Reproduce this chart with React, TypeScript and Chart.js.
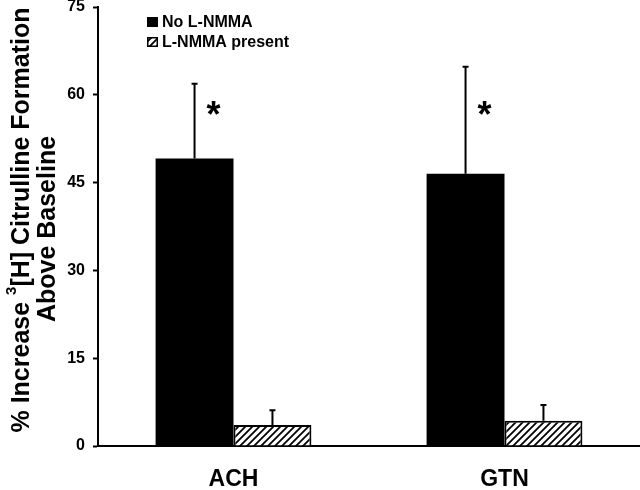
import React, { useEffect, useRef } from 'react';
import { Chart, registerables } from 'chart.js';

Chart.register(...registerables);

const categories = ['ACH', 'GTN'];
const seriesNames = ['No L-NMMA', 'L-NMMA present'];
const noLNMMA = [49.1, 46.5];
const noLNMMAErr = [12.8, 18.3];
const withLNMMA = [3.6, 4.3];
const withLNMMAErr = [2.5, 2.7];
const significant = [true, true];
const asteriskLevel = 57;
const yMin = 0;
const yMax = 75;
const yStep = 15;
const yTitleLine1 = ['% Increase ', '3', '[H] Citrulline Formation'];
const yTitleLine2 = 'Above Baseline';

const FONT = "'Liberation Sans', Arial, Helvetica, sans-serif";

function makeHatchTile(): HTMLCanvasElement {
  const s = 7;
  const c = document.createElement('canvas');
  c.width = s;
  c.height = s;
  const g = c.getContext('2d')!;
  g.fillStyle = '#fff';
  g.fillRect(0, 0, s, s);
  g.strokeStyle = '#000';
  g.lineWidth = 1.8;
  g.beginPath();
  for (const k of [-s, 0, s]) {
    g.moveTo(k - 1, s + 1);
    g.lineTo(k + s + 1, -1);
  }
  g.stroke();
  return c;
}

export default function App() {
  const canvasRef = useRef<HTMLCanvasElement | null>(null);

  useEffect(() => {
    const canvas = canvasRef.current;
    if (!canvas) return;
    const ctx0 = canvas.getContext('2d')!;
    const hatch = ctx0.createPattern(makeHatchTile(), 'repeat') as CanvasPattern;

    const overlay = {
      id: 'overlay',
      afterDatasetsDraw(chart: any) {
        const ctx = chart.ctx;
        const y = chart.scales.y;
        const errs = [noLNMMAErr, withLNMMAErr];
        chart.data.datasets.forEach((ds: any, di: number) => {
          const meta = chart.getDatasetMeta(di);
          meta.data.forEach((bar: any, i: number) => {
            const v = ds.data[i];
            const base = y.getPixelForValue(v);
            const top = y.getPixelForValue(v + errs[di][i]);
            ctx.save();
            ctx.strokeStyle = '#000';
            ctx.lineWidth = 2;
            ctx.beginPath();
            ctx.moveTo(bar.x, base);
            ctx.lineTo(bar.x, top);
            ctx.moveTo(bar.x - 3, top);
            ctx.lineTo(bar.x + 3, top);
            ctx.stroke();
            ctx.restore();
          });
        });
        // significance asterisks
        const meta0 = chart.getDatasetMeta(0);
        meta0.data.forEach((bar: any, i: number) => {
          if (!significant[i]) return;
          ctx.save();
          ctx.fillStyle = '#000';
          ctx.font = `bold 36px ${FONT}`;
          ctx.textAlign = 'center';
          ctx.textBaseline = 'alphabetic';
          ctx.fillText('*', bar.x + 19, y.getPixelForValue(asteriskLevel) + 15);
          ctx.restore();
        });
      },
      afterDraw(chart: any) {
        const ctx = chart.ctx;
        const ca = chart.chartArea;
        // Legend
        const lx = ca.left + 49;
        const rows = [22, 42];
        ctx.save();
        ctx.font = `bold 16px ${FONT}`;
        ctx.textBaseline = 'middle';
        ctx.textAlign = 'left';
        ctx.fillStyle = '#000';
        ctx.fillRect(lx, rows[0] - 5, 11, 10);
        ctx.fillText(seriesNames[0], lx + 15, rows[0] + 1);
        ctx.fillStyle = hatch;
        ctx.fillRect(lx, rows[1] - 5, 11, 10);
        ctx.strokeStyle = '#000';
        ctx.lineWidth = 1.5;
        ctx.strokeRect(lx + 0.75, rows[1] - 4.25, 9.5, 8.5);
        ctx.fillStyle = '#000';
        ctx.fillText(seriesNames[1], lx + 15, rows[1] + 1);
        ctx.restore();

        // Y-axis title (rotated, with superscript)
        const mainFont = `bold 25px ${FONT}`;
        const supFont = `bold 15px ${FONT}`;
        ctx.save();
        ctx.fillStyle = '#000';
        ctx.textBaseline = 'alphabetic';
        ctx.textAlign = 'left';
        ctx.font = mainFont;
        const w1 = ctx.measureText(yTitleLine1[0]).width;
        const w3 = ctx.measureText(yTitleLine1[2]).width;
        ctx.font = supFont;
        const w2 = ctx.measureText(yTitleLine1[1]).width;
        const total = w1 + w2 + w3;
        ctx.translate(29, 220);
        ctx.rotate(-Math.PI / 2);
        let x = -total / 2;
        ctx.font = mainFont;
        ctx.fillText(yTitleLine1[0], x, 0);
        x += w1;
        ctx.font = supFont;
        ctx.fillText(yTitleLine1[1], x, -13);
        x += w2;
        ctx.font = mainFont;
        ctx.fillText(yTitleLine1[2], x, 0);
        ctx.restore();

        ctx.save();
        ctx.fillStyle = '#000';
        ctx.font = mainFont;
        ctx.textBaseline = 'alphabetic';
        ctx.textAlign = 'center';
        ctx.translate(55, 229);
        ctx.rotate(-Math.PI / 2);
        ctx.fillText(yTitleLine2, 0, 0);
        ctx.restore();
      },
    };

    const chart = new Chart(canvas, {
      type: 'bar',
      data: {
        labels: categories,
        datasets: [
          {
            label: seriesNames[0],
            data: noLNMMA,
            backgroundColor: '#000',
            borderWidth: 0,
            categoryPercentage: 0.575,
            barPercentage: 1,
          },
          {
            label: seriesNames[1],
            data: withLNMMA,
            backgroundColor: hatch,
            borderColor: '#000',
            borderWidth: 2,
            categoryPercentage: 0.575,
            barPercentage: 1,
          },
        ],
      },
      options: {
        animation: false,
        responsive: false,
        maintainAspectRatio: false,
        layout: { padding: { top: 7, right: 0, left: 0, bottom: 0 } },
        plugins: {
          legend: { display: false },
          tooltip: { enabled: false },
          title: { display: false },
        },
        scales: {
          x: {
            grid: { display: true, drawOnChartArea: false, drawTicks: false },
            border: { display: true, color: '#000', width: 2 },
            ticks: {
              color: '#000',
              font: { family: FONT, size: 23, weight: 'bold' },
              padding: 20,
            },
            afterFit(scale: any) {
              scale.height = 44;
              scale.paddingLeft = 0;
              scale.paddingRight = 0;
            },
          },
          y: {
            min: yMin,
            max: yMax,
            grid: {
              display: true,
              drawOnChartArea: false,
              drawTicks: true,
              tickLength: 5,
              tickWidth: 2,
              tickColor: '#000',
            },
            border: { display: true, color: '#000', width: 2 },
            ticks: {
              stepSize: yStep,
              color: '#000',
              font: { family: FONT, size: 16, weight: 'bold' },
              padding: 8,
            },
            afterFit(scale: any) {
              scale.width = 98;
              scale.paddingTop = 0;
              scale.paddingBottom = 0;
            },
          },
        },
      },
      plugins: [overlay],
    } as any);

    return () => chart.destroy();
  }, []);

  return (
    <div style={{ position: 'absolute', left: 0, top: 0, width: 640, height: 490, background: '#fff' }}>
      <canvas ref={canvasRef} width={640} height={490} style={{ width: 640, height: 490 }} />
    </div>
  );
}
